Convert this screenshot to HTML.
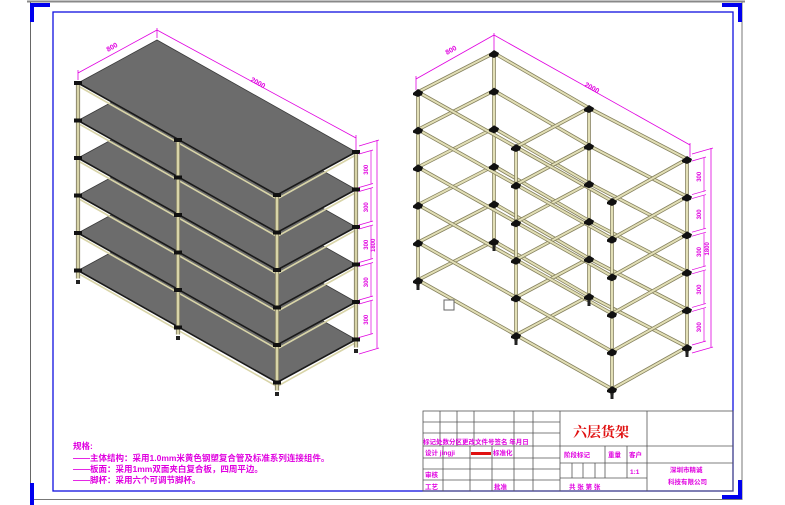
<!DOCTYPE html>
<html><head><meta charset="utf-8"><style>
html,body{margin:0;padding:0;background:#fff;width:785px;height:505px;overflow:hidden}
svg{display:block}
.m{fill:#e000e0;font-family:"Liberation Sans","Noto Sans CJK SC",sans-serif;font-weight:bold}
</style></head><body>
<svg id="s" width="785" height="505" viewBox="0 0 785 505" xmlns="http://www.w3.org/2000/svg">
<!-- page frame -->
<line x1="27" y1="1.5" x2="745" y2="1.5" stroke="#888" stroke-width="2"/>
<line x1="30.5" y1="2" x2="30.5" y2="505" stroke="#666" stroke-width="1"/>
<line x1="742" y1="2" x2="742" y2="500" stroke="#777" stroke-width="1"/>
<line x1="30" y1="499.5" x2="742" y2="499.5" stroke="#777" stroke-width="1"/>
<rect x="53" y="12" width="680" height="479" fill="none" stroke="#1010e0" stroke-width="1.3"/>
<path d="M32 22 V5 H50" fill="none" stroke="#0000ee" stroke-width="4"/>
<path d="M722 5 H740 V22" fill="none" stroke="#0000ee" stroke-width="4"/>
<path d="M722 497 H740 V480" fill="none" stroke="#0000ee" stroke-width="4"/>
<path d="M32 483 V505" fill="none" stroke="#0000ee" stroke-width="4"/>
<g id="left"></g>
<g id="right"></g>
<rect x="444" y="300" width="10" height="10" fill="#fff" stroke="#666" stroke-width="1"/>
<!-- left dims -->
<g stroke="#e000e0" stroke-width="0.8" fill="none">
<line x1="78" y1="80" x2="78" y2="70"/><line x1="157" y1="38" x2="157" y2="28"/>
<line x1="78" y1="73" x2="157" y2="30"/>
<line x1="157" y1="30" x2="356" y2="138"/><line x1="356" y1="150" x2="356" y2="135"/>
<line x1="416" y1="90" x2="416" y2="76"/><line x1="494" y1="50" x2="494" y2="33"/>
<line x1="416" y1="79" x2="494" y2="35"/>
<line x1="494" y1="35" x2="690" y2="145"/><line x1="690" y1="157" x2="690" y2="143"/>
</g>
<text class="m" font-size="7" transform="translate(108,52) rotate(-29)">800</text>
<text class="m" font-size="7" transform="translate(250,81) rotate(29)">2000</text>
<text class="m" font-size="7" transform="translate(447,55) rotate(-29)">800</text>
<text class="m" font-size="7" transform="translate(584,86) rotate(29)">2000</text>
<g id="dims"></g>
<!-- notes -->
<text class="m" font-size="8.5" x="73" y="449">规格:</text>
<text class="m" font-size="8.5" x="73" y="461">——主体结构：采用1.0mm米黄色钢塑复合管及标准系列连接组件。</text>
<text class="m" font-size="8.5" x="73" y="472">——板面：采用1mm双面夹白复合板，四周平边。</text>
<text class="m" font-size="8.5" x="73" y="483">——脚杯：采用六个可调节脚杯。</text>
<!-- title block -->
<g stroke="#555" stroke-width="0.8" fill="none">
<rect x="423" y="411" width="310" height="80"/>
<line x1="423" y1="422" x2="560" y2="422"/><line x1="423" y1="433" x2="560" y2="433"/>
<line x1="423" y1="446" x2="733" y2="446"/><line x1="423" y1="458" x2="560" y2="458"/>
<line x1="423" y1="469" x2="560" y2="469"/><line x1="423" y1="480" x2="560" y2="480"/>
<line x1="440" y1="411" x2="440" y2="446"/><line x1="457" y1="411" x2="457" y2="446"/>
<line x1="474" y1="411" x2="474" y2="446"/><line x1="514" y1="411" x2="514" y2="491"/>
<line x1="533" y1="411" x2="533" y2="491"/><line x1="560" y1="411" x2="560" y2="491"/>
<line x1="443" y1="446" x2="443" y2="491"/><line x1="470" y1="446" x2="470" y2="491"/>
<line x1="492" y1="446" x2="492" y2="491"/>
<line x1="647" y1="411" x2="647" y2="491"/>
<line x1="560" y1="463" x2="733" y2="463"/><line x1="560" y1="478" x2="647" y2="478"/>
<line x1="605" y1="446" x2="605" y2="478"/><line x1="627" y1="446" x2="627" y2="478"/>
<line x1="572" y1="463" x2="572" y2="478"/><line x1="583" y1="463" x2="583" y2="478"/>
<line x1="595" y1="463" x2="595" y2="478"/>
</g>
<text x="573" y="437" font-size="14" fill="#e01010" font-weight="bold" style="font-family:'Liberation Serif','Noto Serif CJK SC',serif">六层货架</text>
<g class="m" font-size="6.5">
<text x="423" y="444">标记处数分区更改文件号签名 年月日</text>
<text x="425" y="455">设计 jingji</text>
<text x="493" y="455">标准化</text>
<text x="425" y="477">审核</text>
<text x="425" y="489">工艺</text>
<text x="494" y="489">批准</text>
<text x="564" y="457">阶段标记</text>
<text x="608" y="457">重量</text>
<text x="629" y="457">客户</text>
<text x="630" y="474">1:1</text>
<text x="569" y="489">共  张  第  张</text>
<text x="670" y="472">深圳市精诚</text>
<text x="668" y="484">科技有限公司</text>
</g>
<rect x="471" y="452" width="20" height="3" fill="#e01010"/>
</svg>
<script>
var NS="http://www.w3.org/2000/svg";
function el(p,t,a){var e=document.createElementNS(NS,t);for(var k in a)e.setAttribute(k,a[k]);p.appendChild(e);return e;}
var L=document.getElementById("left");
// shelves
var sp=37.5;
for(var i=5;i>=0;i--){
 var d=i*sp;
 var pts=[[78,83+d],[157,40+d],[356,152+d],[277,195+d]];
 el(L,"polygon",{points:pts.map(function(p){return p.join(",")}).join(" "),fill:"#6c6c6c",stroke:"#3a3a3a","stroke-width":"0.8"});
 el(L,"line",{x1:80,y1:87+d,x2:277,y2:199+d,stroke:"#d8d4a8","stroke-width":"1.6"});
 el(L,"line",{x1:277,y1:199+d,x2:354,y2:156+d,stroke:"#d8d4a8","stroke-width":"1.6"});
 el(L,"polyline",{points:"78,"+(83+d)+" 277,"+(195+d)+" 356,"+(152+d),fill:"none",stroke:"#1a1a1a","stroke-width":"1.6"});
}
function post(x,y1,y2){el(L,"line",{x1:x,y1:y1,x2:x,y2:y2,stroke:"#77735a","stroke-width":"4.2"});el(L,"line",{x1:x,y1:y1,x2:x,y2:y2,stroke:"#d8d4a8","stroke-width":"2.6"});}
function redrawShelfEdges(){for(var i=0;i<6;i++){var d=i*sp;
 el(L,"rect",{x:74,y:81+d,width:8,height:4,fill:"#111"});
 el(L,"rect",{x:174,y:138+d,width:8,height:4,fill:"#111"});
 el(L,"rect",{x:273,y:193+d,width:8,height:4,fill:"#111"});
 el(L,"rect",{x:352,y:150+d,width:8,height:4,fill:"#111"});}}
// posts segments between shelves
for(var i=0;i<6;i++){var d=i*sp;
 post(78,85+d,d+83+(i<5?sp:8));post(178,141+d,139+d+(i<5?sp:8));
 post(277,197+d,195+d+(i<5?sp:8));post(356,154+d,152+d+(i<5?sp:8));}
redrawShelfEdges();
[[78,280],[178,336],[277,392],[356,349]].forEach(function(p){el(L,"rect",{x:p[0]-2,y:p[1],width:4,height:4,fill:"#222"});});
// right frame
var R=document.getElementById("right");
var P={A:[418,92],B:[494,53],C:[516,147],D:[589,108],E:[612,201],F:[687,159]};
var step=37.6;
function tube(a,b){el(R,"line",{x1:a[0],y1:a[1],x2:b[0],y2:b[1],stroke:"#85815e","stroke-width":"3.6"});el(R,"line",{x1:a[0],y1:a[1],x2:b[0],y2:b[1],stroke:"#e2dfb6","stroke-width":"2"});}
function at(n,i){return [P[n][0],P[n][1]+i*step];}
// back first
["B","D","F"].forEach(function(n){tube(at(n,0),at(n,5.15));});
for(var i=0;i<6;i++){tube(at("B",i),at("D",i));tube(at("D",i),at("F",i));}
for(var i=0;i<6;i++){tube(at("A",i),at("B",i));tube(at("C",i),at("D",i));tube(at("E",i),at("F",i));}
for(var i=0;i<6;i++){tube(at("A",i),at("C",i));tube(at("C",i),at("E",i));}
["A","C","E"].forEach(function(n){tube(at(n,0),at(n,5.15));});
for(var i=0;i<6;i++)["A","B","C","D","E","F"].forEach(function(n){var p=at(n,i);
 el(R,"path",{d:"M"+(p[0]-5)+","+(p[1]+1)+" l5,-4 l5,3 l-1,3 l-4,2 l-5,-2z",fill:"#111"});});
["A","B","C","D","E","F"].forEach(function(n){var p=at(n,5);el(R,"rect",{x:p[0]-1.5,y:p[1]+4,width:3,height:6,fill:"#222"});});
// vertical dims
var D=document.getElementById("dims");
function vd(x0,ys,xo,top,bot){
 for(var i=0;i<5;i++){var y1=ys[i]+2,y2=ys[i+1]-2;
  el(D,"line",{x1:x0,y1:y1,x2:x0+14,y2:y1-4,stroke:"#e000e0","stroke-width":"0.7"});
  el(D,"line",{x1:x0+12,y1:y1-3,x2:x0+12,y2:y2-3,stroke:"#e000e0","stroke-width":"0.7"});
  el(D,"line",{x1:x0,y1:y2,x2:x0+14,y2:y2-4,stroke:"#e000e0","stroke-width":"0.7"});
  var t=el(D,"text",{"class":"m","font-size":"6",transform:"translate("+(x0+9)+","+((y1+y2)/2+4)+") rotate(-90)"});t.textContent="300";}
 el(D,"line",{x1:x0,y1:top+6,x2:xo+2,y2:top,stroke:"#e000e0","stroke-width":"0.7"});
 el(D,"line",{x1:x0,y1:bot+6,x2:xo+2,y2:bot,stroke:"#e000e0","stroke-width":"0.7"});
 el(D,"line",{x1:xo,y1:top,x2:xo,y2:bot,stroke:"#e000e0","stroke-width":"0.8"});
 var t=el(D,"text",{"class":"m","font-size":"6",transform:"translate("+(xo-2)+","+((top+bot)/2+8)+") rotate(-90)"});t.textContent="1800";}
var ly=[];for(var i=0;i<6;i++)ly.push(152+i*sp);
vd(359,ly,377,140,348);
var ry=[];for(var i=0;i<6;i++)ry.push(159+i*step);
vd(692,ry,711,148,347);
</script>
</body></html>
